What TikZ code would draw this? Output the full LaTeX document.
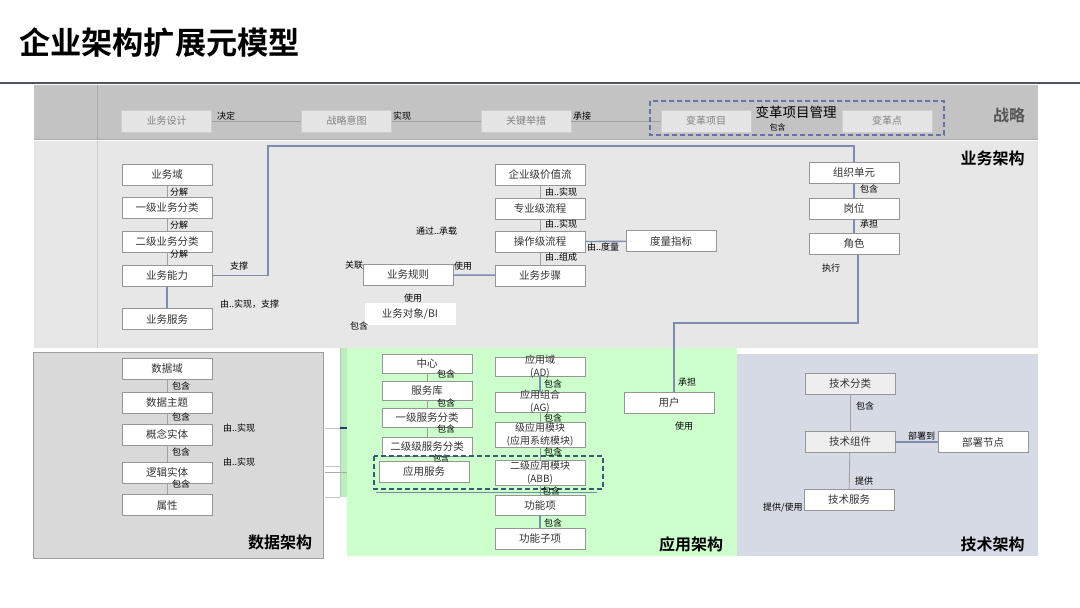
\documentclass[tikz,border=0pt]{standalone}
\usepackage{fontspec}
\setmainfont{Noto Sans CJK SC}[BoldFont={* Bold}]
\usepackage{tikz}
\usetikzlibrary{positioning}
\usepackage{xcolor}
\definecolor{ruleGray}{RGB}{78,84,96}
\definecolor{stratGray}{RGB}{195,195,195}
\definecolor{stratBox}{RGB}{229,229,229}
\definecolor{stratLine}{RGB}{205,205,205}
\definecolor{stratText}{RGB}{128,128,128}
\definecolor{bizGray}{RGB}{231,231,231}
\definecolor{colLine}{RGB}{170,170,170}
\definecolor{dataGray}{RGB}{217,217,217}
\definecolor{dataLine}{RGB}{160,160,160}
\definecolor{appGreen}{RGB}{204,255,204}
\definecolor{appStrip}{RGB}{188,238,188}
\definecolor{techBlue}{RGB}{214,218,228}
\definecolor{techBox}{RGB}{238,238,238}
\definecolor{boxLine}{RGB}{150,150,150}
\definecolor{boxText}{RGB}{51,51,51}
\definecolor{linkGray}{RGB}{160,160,160}
\definecolor{linkBlue}{RGB}{125,140,175}
\definecolor{mgmtBlue}{RGB}{100,115,160}
\definecolor{abbTeal}{RGB}{50,95,110}
\definecolor{tickBlue}{RGB}{30,60,110}
\definecolor{areaGray}{RGB}{85,85,85}

\begin{document}
\begin{tikzpicture}[x=1pt, y=-1pt,
  box/.style={rectangle, draw=boxLine, fill=white, minimum width=90pt,
              minimum height=21pt, inner sep=0pt, text=boxText,
              font=\fontsize{10.5}{12}\selectfont},
  sbox/.style={box, draw=stratLine, fill=stratBox, text=stratText,
               minimum height=22pt, font=\fontsize{10}{12}\selectfont},
  abox/.style={box, minimum height=19pt},
  tbox/.style={box, fill=techBox},
  mtxt/.style={align=center, inner sep=0pt, text=boxText,
               font=\fontsize{10}{13}\selectfont},
  lbl/.style={anchor=west, inner sep=0pt, text=black,
              font=\fontsize{9}{10}\selectfont},
  area/.style={inner sep=0pt, font=\fontsize{16}{18}\selectfont\bfseries},
  slink/.style={draw=linkGray, line width=0.6pt},
  link/.style={draw=linkGray, line width=0.9pt},
  blink/.style={draw=linkBlue, line width=1.4pt}
]
  \useasboundingbox (0,0) rectangle (1080,608);

  % title and rule
  \node[anchor=west, inner sep=0pt, font=\fontsize{31.2}{33}\selectfont\bfseries]
    (title) at (19,43) {企业架构扩展元模型};
  \draw[ruleGray, line width=2.5pt] (0,83) -- (1080,83);

  % bands
  \fill[stratGray] (34,85) rectangle (1038,139);
  \draw[colLine] (97,85) -- (97,139);
  \draw[colLine] (34,139) -- (1038,139);
  \fill[bizGray] (34,141) rectangle (1038,348);
  \draw[colLine!60] (97,141) -- (97,348);
  \filldraw[fill=dataGray, draw=dataLine] (33,352) rectangle (323,558);
  \fill[appStrip] (340,348) rectangle (347,497);
  \fill[appGreen] (347,348) rectangle (737,556);
  \fill[techBlue] (737,354) rectangle (1038,556);
  \draw[colLine!70] (340,348) -- (340,497);
  \draw[colLine!70] (325,428) -- (340,428);
  \draw[tickBlue, line width=2pt] (340,428) -- (347,428);
  \draw[colLine!70] (325,466) -- (340,466);
  \draw[colLine] (325,472) -- (347,472);
  \draw[colLine!70] (325,497) -- (340,497);

  % strategy
  \node[sbox] (bizDesign) at (166.5,121) {业务设计};
  \node[sbox] (stratIntent) at (346.5,121) {战略意图};
  \node[sbox] (keyAction) at (526,121) {关键举措};
  \node[sbox] (chgProj) at (706,121) {变革项目};
  \node[sbox] (chgPoint) at (887,121) {变革点};
  \draw[slink] (bizDesign) -- (stratIntent);
  \draw[slink] (stratIntent) -- (keyAction);
  \draw[slink] (keyAction) -- (chgProj);
  \draw[mgmtBlue, line width=1.5pt, dash pattern=on 5pt off 3pt]
    (650,101) rectangle (944,135);
  \node[inner sep=0pt, font=\fontsize{13.5}{15}\selectfont] (chgMgmt)
    at (796,112) {变革项目管理};
  \node[lbl, anchor=center, font=\fontsize{8}{9}\selectfont] at (777.5,127.5) {包含};
  \node[lbl] at (217,116) {决定};
  \node[lbl] at (393,116) {实现};
  \node[lbl] at (573,116) {承接};
  \node[area, text=areaGray] (stratTitle) at (1009,115.5) {战略};

  % business architecture
  \node[area] (bizTitle) at (992.5,158) {业务架构};
  \node[box] (bizDomain) at (167,174.5) {业务域};
  \node[box, below=12pt of bizDomain] (l1Class) {一级业务分类};
  \node[box, below=12pt of l1Class] (l2Class) {二级业务分类};
  \node[box, below=13pt of l2Class] (bizCap) {业务能力};
  \node[box, below=22pt of bizCap] (bizSvc) {业务服务};
  \draw[link] (bizDomain) -- (l1Class);
  \draw[link] (l1Class) -- (l2Class);
  \draw[link] (l2Class) -- (bizCap);
  \draw[blink] (bizCap) -- (bizSvc);
  \node[lbl] at (170,192) {分解};
  \node[lbl] at (170,225) {分解};
  \node[lbl] at (170,254) {分解};
  \node[lbl] at (230,266) {支撑};
  \node[lbl] at (220,304) {由..实现，支撑};

  \node[box] (valueStream) at (540,175) {企业级价值流};
  \node[box, below=12pt of valueStream] (proProc) {专业级流程};
  \node[box, below=12pt of proProc] (opProc) {操作级流程};
  \node[box, below=12pt of opProc] (bizStep) {业务步骤};
  \node[box] (metric) at (671,241) {度量指标};
  \node[box] (bizRule) at (408,275) {业务规则};
  \node[box, draw=white] (bizObj) at (410,314) {业务对象/BI};
  \draw[link] (valueStream) -- (proProc);
  \draw[link] (proProc) -- (opProc);
  \draw[link] (opProc) -- (bizStep);
  \draw[blink] (opProc) -- (metric);
  \draw[blink] (bizRule) -- (bizStep);
  \node[lbl] at (545,192) {由..实现};
  \node[lbl] at (545,224) {由..实现};
  \node[lbl] at (545,257) {由..组成};
  \node[lbl] at (587,247) {由..度量};
  \node[lbl] at (416,231) {通过..承载};
  \node[lbl] at (345,265) {关联};
  \node[lbl] at (454,266) {使用};
  \node[lbl] at (404,298) {使用};
  \node[lbl] at (350,326) {包含};

  \node[box] (orgUnit) at (854,173) {组织单元};
  \node[box, below=14pt of orgUnit] (post) {岗位};
  \node[box, below=14pt of post] (role) {角色};
  \draw[blink] (orgUnit) -- (post);
  \draw[blink] (post) -- (role);
  \node[lbl] at (860,189) {包含};
  \node[lbl] at (860,224) {承担};
  \node[lbl] at (822,268) {执行};
  \coordinate (capTurn) at (268,146);
  \draw[blink] (bizCap.east) -| (capTurn) -| (orgUnit.north);

  % data architecture
  \node[area] (dataTitle) at (280,542) {数据架构};
  \node[box] (dataDomain) at (167,368.5) {数据域};
  \node[box, below=13pt of dataDomain] (dataTopic) {数据主题};
  \node[box, below=10pt of dataTopic] (conceptEnt) {概念实体};
  \node[box, below=17pt of conceptEnt] (logicEnt) {逻辑实体};
  \node[box, below=11pt of logicEnt] (attr) {属性};
  \draw[link] (dataDomain) -- (dataTopic);
  \draw[link] (dataTopic) -- (conceptEnt);
  \draw[link] (conceptEnt) -- (logicEnt);
  \draw[link] (logicEnt) -- (attr);
  \node[lbl] at (172,386) {包含};
  \node[lbl] at (172,417) {包含};
  \node[lbl] at (172,452) {包含};
  \node[lbl] at (172,484) {包含};
  \node[lbl] at (223,428) {由..实现};
  \node[lbl] at (223,462) {由..实现};

  % application architecture
  \node[area] (appTitle) at (691,544) {应用架构};
  \node[abox] (center) at (427,363.5) {中心};
  \node[abox, below=8pt of center] (svcLib) {服务库};
  \node[abox, below=7pt of svcLib] (l1Svc) {一级服务分类};
  \node[abox, below=10pt of l1Svc] (l2Svc) {二级级服务分类};
  \node[box] (appSvc) at (424,471.5) {应用服务};
  \draw[link] (center) -- (svcLib);
  \draw[link] (svcLib) -- (l1Svc);
  \draw[link] (l1Svc) -- (l2Svc);
  \node[lbl] at (437,374) {包含};
  \node[lbl] at (437,403) {包含};
  \node[lbl] at (437,429) {包含};
  \node[lbl, font=\fontsize{8}{9}\selectfont] at (433,458) {包含};

  \node[abox, label={[mtxt]center:{应用域\\(AD)}}] (appDomain) at (540,366.5) {};
  \node[box, minimum height=20pt, label={[mtxt]center:{应用组合\\(AG)}}]
    (appGroup) at (540,402) {};
  \node[box, minimum height=25pt, label={[mtxt]center:{级应用模块\\(应用系统模块)}}]
    (l1Mod) at (540,434.5) {};
  \node[box, minimum height=25pt, label={[mtxt]center:{二级应用模块\\(ABB)}}]
    (abb) at (540,472.5) {};
  \node[box, minimum height=20pt] (funcItem) at (540,505) {功能项};
  \node[box] (funcSub) at (540,538.5) {功能子项};
  \draw[blink] (appDomain) -- (appGroup);
  \draw[link] (appGroup) -- (l1Mod);
  \draw[link] (l1Mod) -- (abb);
  \draw[link] (abb) -- (funcItem);
  \draw[blink] (funcItem) -- (funcSub);
  \draw[abbTeal, line width=1.3pt, dash pattern=on 5pt off 3pt]
    (374,456) rectangle (603,489);
  \draw[abbTeal!70, line width=0.8pt] (376,492) -- (597,492);
  \node[lbl] at (544,384) {包含};
  \node[lbl] at (544,418) {包含};
  \node[lbl] at (544,452) {包含};
  \node[lbl] at (542,491) {包含};
  \node[lbl] at (544,523) {包含};

  \node[box] (user) at (669,402.5) {用户};
  \node[lbl] at (678,382) {承担};
  \node[lbl] at (675,426) {使用};
  \coordinate (roleTurn) at (674,323);
  \draw[blink] ([xshift=4pt]role.south) |- (roleTurn) -- ([xshift=5pt]user.north);

  % technology architecture
  \node[area] (techTitle) at (992.5,544) {技术架构};
  \node[tbox] (techClass) at (850,383.5) {技术分类};
  \node[tbox] (techComp) at (850,442) {技术组件};
  \node[box] (deployNode) at (983,442) {部署节点};
  \node[box] (techSvc) at (849,499.5) {技术服务};
  \draw[link] (techClass) -- (techComp);
  \draw[link] (techComp) -- (techSvc);
  \draw[blink] (techComp) -- (deployNode);
  \node[lbl] at (856,406) {包含};
  \node[lbl] at (908,436) {部署到};
  \node[lbl] at (855,481) {提供};
  \node[lbl] at (763,508) {提供/使用};
\end{tikzpicture}
\end{document}
